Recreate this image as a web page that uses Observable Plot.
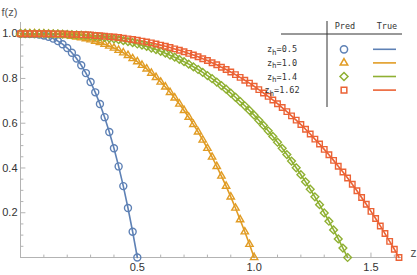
<!DOCTYPE html>
<html><head><meta charset="utf-8">
<script src="https://cdn.jsdelivr.net/npm/d3@7"></script>
<script src="https://cdn.jsdelivr.net/npm/@observablehq/plot@0.6"></script>
<style>body{margin:0;background:#fff}#chart{width:417px;height:275px}</style>
</head><body><div id="chart"></div>
<script>
const zGrid = [0,0.02,0.04,0.06,0.08,0.1,0.12,0.14,0.16,0.18,0.2,0.22,0.24,0.26,0.28,0.3,0.32,0.34,0.36,0.38,0.4,0.42,0.44,0.46,0.48,0.5,0.52,0.54,0.56,0.58,0.6,0.62,0.64,0.66,0.68,0.7,0.72,0.74,0.76,0.78,0.8,0.82,0.84,0.86,0.88,0.9,0.92,0.94,0.96,0.98,1.0,1.02,1.04,1.06,1.08,1.1,1.12,1.14,1.16,1.18,1.2,1.22,1.24,1.26,1.28,1.3,1.32,1.34,1.36,1.38,1.4,1.42,1.44,1.46,1.48,1.5,1.52,1.54,1.56,1.58,1.6,1.62];
const fBlue = [1,1.000,0.999,0.998,0.996,0.992,0.986,0.978,0.967,0.953,0.936,0.915,0.889,0.859,0.824,0.784,0.738,0.686,0.627,0.561,0.488,0.407,0.319,0.221,0.115,0];
const fOrange = [1,1,1,1,0.999,0.999,0.998,0.997,0.996,0.994,0.992,0.989,0.986,0.982,0.978,0.973,0.967,0.961,0.953,0.945,0.936,0.926,0.915,0.903,0.889,0.875,0.859,0.843,0.824,0.805,0.784,0.762,0.738,0.713,0.686,0.657,0.627,0.595,0.561,0.525,0.488,0.449,0.407,0.364,0.319,0.271,0.221,0.169,0.115,0.059,0];
const fGreen = [1,1,1,1,1,1,0.999,0.999,0.999,0.998,0.997,0.996,0.995,0.994,0.992,0.990,0.988,0.986,0.983,0.980,0.977,0.973,0.969,0.965,0.960,0.954,0.949,0.943,0.936,0.929,0.921,0.913,0.904,0.895,0.885,0.875,0.864,0.852,0.840,0.827,0.813,0.799,0.784,0.768,0.752,0.734,0.716,0.697,0.678,0.657,0.636,0.613,0.590,0.566,0.541,0.515,0.488,0.460,0.431,0.401,0.370,0.338,0.305,0.271,0.236,0.199,0.162,0.123,0.083,0.042,0];
const fRed = [1,1,1,1,1,1,1,0.999,0.999,0.999,0.998,0.997,0.997,0.996,0.995,0.994,0.992,0.991,0.989,0.987,0.985,0.983,0.980,0.977,0.974,0.971,0.967,0.963,0.959,0.954,0.949,0.944,0.938,0.932,0.926,0.919,0.912,0.905,0.897,0.888,0.880,0.870,0.861,0.850,0.840,0.829,0.817,0.805,0.792,0.779,0.765,0.750,0.735,0.720,0.704,0.687,0.670,0.652,0.633,0.614,0.594,0.573,0.552,0.529,0.507,0.483,0.459,0.434,0.408,0.382,0.355,0.327,0.298,0.268,0.238,0.206,0.174,0.141,0.107,0.072,0.037,0];
const zhLabels = ["0.5","1.0","1.4","1.62"];
const seriesColors = ["#5E81B5","#E19C24","#8FB032","#EB6235"];
const seriesSymbols = ["circle","triangle2","diamond2","square2"];
const xTickLabels = [0.5,1.0,1.5];
const yTickLabels = [0.2,0.4,0.6,0.8,1.0];
const xMinorTicks = [0.1,0.2,0.3,0.4,0.6,0.7,0.8,0.9,1.1,1.2,1.3,1.4,1.6];
const yMinorTicks = [0.05,0.1,0.15,0.25,0.3,0.35,0.45,0.5,0.55,0.65,0.7,0.75,0.85,0.9,0.95];

const seriesF = [fBlue,fOrange,fGreen,fRed];
const rows = seriesF.flatMap((fs,i)=>fs.map((f,j)=>({z:zGrid[j], f, s:zhLabels[i]})));

const tickShape = {draw(ctx,l){ctx.moveTo(0,0);ctx.lineTo(0,-l);}};
const axisGray = "#b3b3b3";

const plot = Plot.plot({
  width: 417, height: 275,
  marginLeft: 20, marginRight: 15, marginTop: 22, marginBottom: 18,
  x: {domain: [0, 1.635]},
  y: {domain: [0, 1.05]},
  color: {domain: zhLabels, range: seriesColors},
  symbol: {domain: zhLabels, range: seriesSymbols},
  style: {fontFamily: "'Liberation Sans', Arial, sans-serif", fontSize: "11px", background: "#fff", overflow: "visible"},
  marks: [
    Plot.ruleY([0], {stroke: axisGray}),
    Plot.ruleX([0], {stroke: axisGray}),
    Plot.vector(xTickLabels, {x: d=>d, y: 0, length: 4.5, rotate: 0, anchor: "start", shape: tickShape, stroke: axisGray, strokeWidth: 1}),
    Plot.vector(xMinorTicks, {x: d=>d, y: 0, length: 2.5, rotate: 0, anchor: "start", shape: tickShape, stroke: axisGray, strokeWidth: 1}),
    Plot.vector(yTickLabels, {x: 0, y: d=>d, length: 4.5, rotate: 90, anchor: "start", shape: tickShape, stroke: axisGray, strokeWidth: 1}),
    Plot.vector(yMinorTicks, {x: 0, y: d=>d, length: 2.5, rotate: 90, anchor: "start", shape: tickShape, stroke: axisGray, strokeWidth: 1}),
    Plot.axisX({ticks: xTickLabels, tickSize: 0, tickPadding: 6, tickFormat: d3.format(".1f"), label: null, fill: "#333", fontSize: 11}),
    Plot.axisY({ticks: yTickLabels, tickSize: 0, tickPadding: 3, tickFormat: d3.format(".1f"), label: null, fill: "#333", fontSize: 11}),
    Plot.line(rows, {x: "z", y: "f", z: "s", stroke: "s", strokeWidth: 1.6}),
    Plot.dot(rows, {x: "z", y: "f", symbol: "s", stroke: "s", fill: "none", r: 3.5, strokeWidth: 1.4}),
    Plot.text(["f(z)"], {frameAnchor: "top-left", dx: -19, dy: -14, textAnchor: "start", fontSize: 11, fill: "#555"}),
    Plot.text(["z"], {frameAnchor: "bottom-right", dx: 8, dy: -1, textAnchor: "start", fontSize: 12, fill: "#555"})
  ]
});

// Legend table (Mathematica-style grid)
const svg = d3.select(plot);
const g = svg.append("g").attr("font-family", "'DejaVu Sans Mono', monospace").attr("font-size", 8.5).attr("fill", "#333");
g.append("line").attr("x1", 327).attr("x2", 327).attr("y1", 21).attr("y2", 107).attr("stroke", "#333").attr("stroke-width", 1);
g.append("line").attr("x1", 281).attr("x2", 402).attr("y1", 34).attr("y2", 34).attr("stroke", "#333").attr("stroke-width", 1);
g.append("text").attr("x", 345).attr("y", 26).attr("text-anchor", "middle").attr("dominant-baseline", "central").text("Pred");
g.append("text").attr("x", 387).attr("y", 26).attr("text-anchor", "middle").attr("dominant-baseline", "central").text("True");
const d3Sym = {circle: d3.symbolCircle, triangle2: d3.symbolTriangle2, diamond2: d3.symbolDiamond2, square2: d3.symbolSquare2};
zhLabels.forEach((lab, i) => {
  const y = 49.3 + i * 13.6;
  const t = g.append("text").attr("x", 282).attr("y", y).attr("dominant-baseline", "central");
  t.append("tspan").text("z");
  t.append("tspan").attr("dy", 2.5).attr("font-size", 7.5).text("h");
  t.append("tspan").attr("dy", -2.5).text("=" + lab);
  g.append("path").attr("transform", `translate(344,${y})`)
    .attr("d", d3.symbol().type(d3Sym[seriesSymbols[i]]).size(Math.PI * 3.6 * 3.6)())
    .attr("fill", "none").attr("stroke", seriesColors[i]).attr("stroke-width", 1.5);
  g.append("line").attr("x1", 373).attr("x2", 396).attr("y1", y).attr("y2", y)
    .attr("stroke", seriesColors[i]).attr("stroke-width", 1.6);
});

document.getElementById("chart").append(plot);
</script>
</body></html>
